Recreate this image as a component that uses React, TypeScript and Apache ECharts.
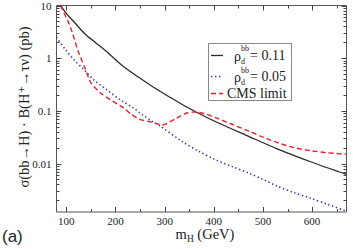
import React, { useEffect, useRef } from 'react';
import * as echarts from 'echarts';

// ---- data ----
const massRho011 = [87, 100, 120, 137, 160, 180, 211, 245, 279, 336, 370, 404, 472, 529, 597, 670];
const sigmaRho011 = [10.4, 7.1, 4.4, 2.95, 1.95, 1.38, 0.76, 0.447, 0.275, 0.132, 0.089, 0.062, 0.0324, 0.019, 0.0108, 0.0062];

const massRho005 = [80, 97, 117, 134, 157, 184, 211, 238, 252, 276, 289, 336, 370, 404, 438, 472, 502, 529, 563, 597, 630, 670];
const sigmaRho005 = [2.49, 1.5, 0.9, 0.63, 0.38, 0.245, 0.159, 0.111, 0.088, 0.062, 0.053, 0.026, 0.017, 0.0117, 0.0087, 0.0065, 0.0049, 0.0037, 0.0028, 0.0022, 0.0017, 0.00125];

const massCMS = [88, 103, 113, 123.5, 137, 151, 171, 191, 218, 232, 249, 270, 296, 323, 347, 362, 380, 404, 438, 472, 495, 529, 563, 597, 630, 670];
const sigmaCMS = [10, 5.1, 2.9, 1.4, 0.68, 0.33, 0.213, 0.159, 0.111, 0.086, 0.069, 0.062, 0.054, 0.072, 0.092, 0.095, 0.089, 0.074, 0.055, 0.041, 0.033, 0.025, 0.02, 0.0175, 0.016, 0.015];

const couplingValues = ['0.11', '0.05'];
const cmsName = 'CMS limit';

const xLabelValues = [100, 200, 300, 400, 500, 600];
const xMinorValues = [150, 250, 350, 450, 550, 650];
const yLabelValues = [0.01, 0.1, 1, 10];
const yLabelTexts = ['0.01', '0.1', '1', '10'];
const yDecadeStarts = [0.001, 0.01, 0.1, 1];
const yMinorMultipliers = [2, 3, 4, 5, 6, 7, 8, 9];

const X_MIN = 80;
const X_MAX = 670;
const Y_MIN = 0.0012;
const Y_MAX = 10;

const SERIF = '"Liberation Serif", "DejaVu Serif", serif';

function pairs(xs: number[], ys: number[]) {
  return xs.map((x, i) => [x, ys[i]]);
}

export default function App() {
  const ref = useRef<HTMLDivElement>(null);

  useEffect(() => {
    if (!ref.current) return;
    const chart = echarts.init(ref.current, null, { renderer: 'svg' });

    const tickItems: number[][] = [];
    xLabelValues.forEach((v) => tickItems.push([v, 1, 0]));
    xMinorValues.forEach((v) => tickItems.push([v, 1, 1]));
    yLabelValues.forEach((v) => tickItems.push([X_MIN, v, 2]));
    yDecadeStarts.forEach((d) =>
      yMinorMultipliers.forEach((m) => {
        const v = d * m;
        if (v > Y_MIN && v < Y_MAX) tickItems.push([X_MIN, v, 3]);
      })
    );

    const tickColor = '#444';
    const supSize = 8;

    chart.setOption({
      animation: false,
      backgroundColor: '#fff',
      textStyle: { fontFamily: SERIF },
      grid: {
        left: 56.5,
        top: 4.5,
        right: 6.5,
        bottom: 37,
        show: true,
        borderColor: '#555',
        borderWidth: 1,
        containLabel: false,
      },
      xAxis: {
        type: 'value',
        min: X_MIN,
        max: X_MAX,
        interval: 10,
        axisLine: { show: false },
        axisTick: { show: false },
        splitLine: { show: false },
        axisLabel: {
          margin: 3,
          fontFamily: SERIF,
          fontSize: 11,
          color: '#222',
          formatter: (v: number) => (xLabelValues.indexOf(Math.round(v)) >= 0 ? String(Math.round(v)) : ''),
        },
      },
      yAxis: {
        type: 'log',
        logBase: 10,
        min: Y_MIN,
        max: Y_MAX,
        axisLine: { show: false },
        axisTick: { show: false },
        splitLine: { show: false },
        axisLabel: {
          margin: 5,
          fontFamily: SERIF,
          fontSize: 11,
          color: '#222',
          formatter: (v: number) => {
            const l = Math.log10(v);
            for (let i = 0; i < yLabelValues.length; i++) {
              if (Math.abs(l - Math.log10(yLabelValues[i])) < 1e-6) return yLabelTexts[i];
            }
            return '';
          },
        },
      },
      series: [
        {
          type: 'custom',
          silent: true,
          z: 5,
          clip: false,
          encode: { x: 0, y: 1 },
          data: tickItems,
          renderItem: (params: any, api: any) => {
            const cs = params.coordSys;
            const kind = api.value(2);
            const lineStyle = { stroke: tickColor, lineWidth: 1 };
            if (kind === 0 || kind === 1) {
              const len = kind === 0 ? 5 : 3;
              const px = Math.round(api.coord([api.value(0), 1])[0]) + 0.5;
              const yb = cs.y + cs.height;
              const yt = cs.y;
              return {
                type: 'group',
                children: [
                  { type: 'line', shape: { x1: px, y1: yb, x2: px, y2: yb - len }, style: lineStyle },
                  { type: 'line', shape: { x1: px, y1: yt, x2: px, y2: yt + len }, style: lineStyle },
                ],
              };
            }
            const len = kind === 2 ? 5 : 3;
            const py = Math.round(api.coord([X_MIN, api.value(1)])[1]) + 0.5;
            const xl = cs.x;
            const xr = cs.x + cs.width;
            return {
              type: 'group',
              children: [
                { type: 'line', shape: { x1: xl, y1: py, x2: xl + len, y2: py }, style: lineStyle },
                { type: 'line', shape: { x1: xr, y1: py, x2: xr - len, y2: py }, style: lineStyle },
              ],
            };
          },
        },
        {
          name: 'rho011',
          type: 'line',
          data: pairs(massRho011, sigmaRho011),
          showSymbol: false,
          smooth: 0.3,
          clip: true,
          z: 3,
          lineStyle: { color: '#2a2a2a', width: 1.3, type: 'solid' },
        },
        {
          name: 'rho005',
          type: 'line',
          data: pairs(massRho005, sigmaRho005),
          showSymbol: false,
          smooth: 0.3,
          clip: true,
          z: 3,
          lineStyle: { color: '#3b3bb0', width: 1.6, type: [1.4, 2.6] },
        },
        {
          name: cmsName,
          type: 'line',
          data: pairs(massCMS, sigmaCMS),
          showSymbol: false,
          smooth: 0.25,
          clip: true,
          z: 4,
          lineStyle: { color: '#e8212b', width: 1.4, type: [5, 3] },
        },
      ],
      graphic: [
        // y axis title
        {
          type: 'text',
          x: 24,
          y: 107,
          rotation: Math.PI / 2,
          style: {
            text: 'σ(bb→H) · B(H⁺→τν) (pb)',
            fontFamily: SERIF,
            fontSize: 14.5,
            fill: '#222',
            align: 'center',
            verticalAlign: 'middle',
          },
        },
        // x axis title
        {
          type: 'text',
          x: 205,
          y: 234,
          style: {
            text: '{a|m}{b|H}{a| (GeV)}',
            fontFamily: SERIF,
            fill: '#222',
            align: 'center',
            verticalAlign: 'middle',
            rich: {
              a: { fontFamily: SERIF, fontSize: 14.5, lineHeight: 20, fill: '#222' },
              b: { fontFamily: SERIF, fontSize: 9.5, fill: '#222', verticalAlign: 'bottom' },
            },
          },
        },
        // panel label
        {
          type: 'text',
          x: 2,
          y: 236,
          style: {
            text: '(a)',
            fontFamily: '"Liberation Sans", Arial, sans-serif',
            fontSize: 17,
            fill: '#222',
            align: 'left',
            verticalAlign: 'middle',
          },
        },
        // legend
        {
          type: 'group',
          children: [
            {
              type: 'rect',
              shape: { x: 208.5, y: 43.5, width: 83, height: 57 },
              style: { fill: '#fff', stroke: '#888', lineWidth: 1 },
            },
            // row 1
            { type: 'line', shape: { x1: 211, y1: 55.5, x2: 223, y2: 55.5 }, style: { stroke: '#2a2a2a', lineWidth: 1.3 } },
            { type: 'text', x: 234, y: 56.5, style: { text: 'ρ', fontFamily: SERIF, fontSize: 14, fill: '#222', align: 'left', verticalAlign: 'middle' } },
            { type: 'text', x: 241, y: 48.5, style: { text: 'bb', fontFamily: SERIF, fontSize: supSize, fill: '#222', align: 'left', verticalAlign: 'middle' } },
            { type: 'text', x: 241, y: 61, style: { text: 'd', fontFamily: SERIF, fontSize: supSize, fill: '#222', align: 'left', verticalAlign: 'middle' } },
            { type: 'text', x: 250, y: 55.5, style: { text: '= ' + couplingValues[0], fontFamily: SERIF, fontSize: 14, fill: '#222', align: 'left', verticalAlign: 'middle' } },
            // row 2
            { type: 'line', shape: { x1: 211, y1: 76.5, x2: 223, y2: 76.5 }, style: { stroke: '#3b3bb0', lineWidth: 1.6, lineDash: [1.4, 2.6] } },
            { type: 'text', x: 234, y: 77.5, style: { text: 'ρ', fontFamily: SERIF, fontSize: 14, fill: '#222', align: 'left', verticalAlign: 'middle' } },
            { type: 'text', x: 241, y: 70.5, style: { text: 'bb', fontFamily: SERIF, fontSize: supSize, fill: '#222', align: 'left', verticalAlign: 'middle' } },
            { type: 'text', x: 241, y: 82, style: { text: 'd', fontFamily: SERIF, fontSize: supSize, fill: '#222', align: 'left', verticalAlign: 'middle' } },
            { type: 'text', x: 250, y: 76.5, style: { text: '= ' + couplingValues[1], fontFamily: SERIF, fontSize: 14, fill: '#222', align: 'left', verticalAlign: 'middle' } },
            // row 3
            { type: 'line', shape: { x1: 211, y1: 93.5, x2: 223, y2: 93.5 }, style: { stroke: '#e8212b', lineWidth: 1.4, lineDash: [5, 3] } },
            { type: 'text', x: 227, y: 93.5, style: { text: cmsName, fontFamily: SERIF, fontSize: 14, fill: '#222', align: 'left', verticalAlign: 'middle' } },
          ],
        },
      ],
    });

    return () => chart.dispose();
  }, []);

  return (
    <div
      ref={ref}
      style={{ position: 'fixed', left: 0, top: 0, width: 353, height: 249, background: '#fff' }}
    />
  );
}
